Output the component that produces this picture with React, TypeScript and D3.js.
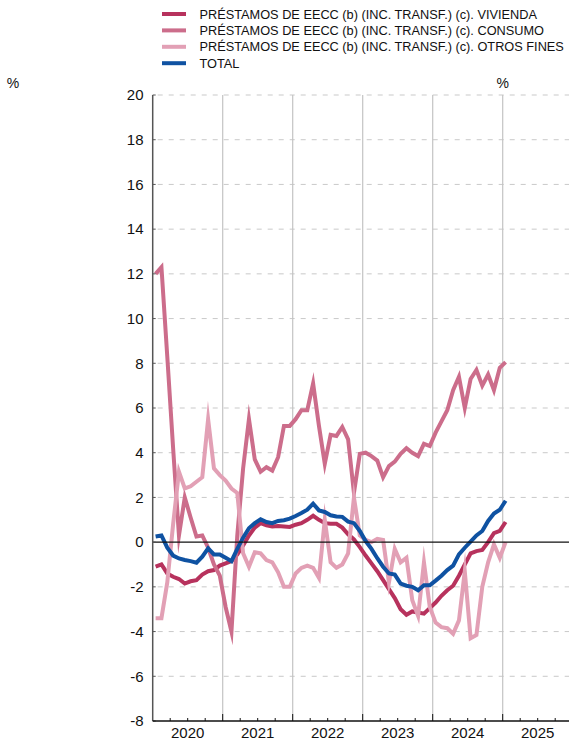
import { line, range, scaleLinear, timeMonth } from "d3";

// meses ene-2020 .. ene-2025
const months = timeMonth.range(new Date(2020, 0, 1), new Date(2025, 1, 1));

const vivienda = [
  -1.1, -1.0, -1.4, -1.55, -1.65, -1.85, -1.75, -1.7, -1.45, -1.3, -1.25, -1.05,
  -0.95, -0.85, -0.55, -0.15, 0.3, 0.65, 0.85, 0.75, 0.7, 0.72, 0.7, 0.68,
  0.78, 0.85, 1.0, 1.18, 1.0, 0.85, 0.82, 0.82, 0.65, 0.35, 0.12, -0.22,
  -0.6, -0.95, -1.3, -1.7, -2.1, -2.5, -3.0, -3.25, -3.1, -3.15, -3.2, -2.95,
  -2.7, -2.4, -2.15, -1.95, -1.5, -1.0, -0.5, -0.4, -0.35, 0.0, 0.4, 0.5,
  0.9,
];

const consumo = [
  12.0, 12.3, 8.3, 4.2, 0.3, 2.0, 1.1, 0.25, 0.3, -0.25, -1.0, -1.5,
  -2.9, -4.0, 0.3, 3.3, 5.5, 3.7, 3.15, 3.35, 3.2, 3.8, 5.2, 5.2,
  5.5, 5.9, 5.9, 7.1, 5.2, 3.5, 4.8, 4.75, 5.15, 4.6, 2.2, 3.95,
  4.0, 3.85, 3.65, 2.9, 3.4, 3.6, 3.95, 4.2, 4.0, 3.85, 4.4, 4.3,
  4.9, 5.4, 5.9, 6.8, 7.4, 6.0, 7.3, 7.7, 7.0, 7.5, 6.8, 7.8,
  8.05,
];

const otrosFines = [
  -3.4, -3.4, -1.8, 0.8, 3.15, 2.4, 2.5, 2.7, 2.9, 5.5, 3.3, 3.0,
  2.75, 2.4, 2.2, -0.5, -1.1, -0.45, -0.5, -0.8, -0.9, -1.35, -2.0, -2.0,
  -1.4, -1.15, -1.05, -1.15, -1.6, 1.0, -0.9, -1.15, -1.0, -0.5, 2.0, 0.3,
  0.1, 0.0, 0.15, 0.1, -1.8, -0.3, -0.9, -0.7, -2.6, -3.3, -0.9, -2.9,
  -3.6, -3.8, -3.85, -4.1, -3.5, -1.3, -4.3, -4.15, -2.0, -0.9, -0.1, -0.7,
  0.0,
];

const total = [
  0.25, 0.3, -0.25, -0.6, -0.73, -0.8, -0.85, -0.92, -0.65, -0.28, -0.55, -0.55,
  -0.7, -0.85, -0.3, 0.2, 0.62, 0.85, 1.02, 0.9, 0.85, 0.95, 0.98, 1.05,
  1.17, 1.3, 1.45, 1.72, 1.42, 1.35, 1.2, 1.15, 1.13, 0.92, 0.85, 0.5,
  0.05, -0.3, -0.72, -1.1, -1.4, -1.45, -1.85, -1.95, -2.0, -2.15, -1.93, -1.93,
  -1.72, -1.5, -1.25, -1.05, -0.55, -0.25, 0.02, 0.3, 0.5, 0.95, 1.28, 1.45,
  1.85,
];

const seriesLabels = [
  "PRÉSTAMOS DE EECC (b) (INC. TRANSF.) (c). VIVIENDA",
  "PRÉSTAMOS DE EECC (b) (INC. TRANSF.) (c). CONSUMO",
  "PRÉSTAMOS DE EECC (b) (INC. TRANSF.) (c). OTROS FINES",
  "TOTAL",
];

const years = [2020, 2021, 2022, 2023, 2024, 2025];
const yTicks = range(-8, 21, 2);

const colors = ["#b7325d", "#cc6d8b", "#e2a0b5", "#0f52a2"];
const font = "'Liberation Sans', Arial, Helvetica, sans-serif";

export default function App() {
  const width = 569;
  const height = 740;
  const right = width;

  const x = scaleLinear().domain([2020, 2026]).range([152.7, 572.7]);
  const y = scaleLinear().domain([-8, 20]).range([721, 95]);

  const monthX = (d: Date) => x(d.getFullYear() + (d.getMonth() + 0.5) / 12);

  const path = line<number>()
    .x((_, i) => monthX(months[i]))
    .y((v) => y(v));

  const allSeries = [vivienda, consumo, otrosFines, total];

  return (
    <svg
      width={width}
      height={height}
      style={{ position: "absolute", left: 0, top: 0, background: "#fff" }}
      fontFamily={font}
    >
      {/* leyenda */}
      {seriesLabels.map((label, i) => {
        const ly = 14 + i * 16.4;
        return (
          <g key={label}>
            <line x1={162} x2={186} y1={ly} y2={ly} stroke={colors[i]} strokeWidth={4} />
            <text x={199.5} y={ly + 4.6} fontSize={12.75} fill="#111">
              {label}
            </text>
          </g>
        );
      })}

      <text x={13} y={88} fontSize={14} textAnchor="middle" fill="#111">%</text>
      <text x={x(2025)} y={88} fontSize={14} textAnchor="middle" fill="#111">%</text>

      {/* rejilla horizontal */}
      {yTicks
        .filter((t) => t !== 0 && t !== -8)
        .map((t) => (
          <line
            key={t}
            x1={x(2020)}
            x2={right}
            y1={y(t)}
            y2={y(t)}
            stroke="#c9c9c9"
            strokeWidth={1}
            strokeDasharray="5 6"
            strokeDashoffset={-5}
          />
        ))}

      {/* rejilla vertical */}
      {years.slice(1).map((yr) => (
        <line
          key={yr}
          x1={x(yr)}
          x2={x(yr)}
          y1={y(20)}
          y2={y(-8)}
          stroke="#c4c4c4"
          strokeWidth={1.2}
        />
      ))}

      {/* series */}
      {allSeries.map((values, i) => (
        <path
          key={i}
          d={path(values) ?? ""}
          fill="none"
          stroke={colors[i]}
          strokeWidth={4}
          strokeLinejoin="miter"
          strokeMiterlimit={10}
        />
      ))}

      <line x1={x(2020)} x2={right} y1={y(0)} y2={y(0)} stroke="#111" strokeWidth={1.2} />

      {/* eje y */}
      <line x1={x(2020)} x2={x(2020)} y1={y(20)} y2={y(-8)} stroke="#555" strokeWidth={1.5} />
      {yTicks.map((t) => (
        <g key={t}>
          <line x1={x(2020)} x2={x(2020) + 3} y1={y(t)} y2={y(t)} stroke="#555" strokeWidth={1} />
          <text
            x={143.5}
            y={y(t)}
            dy="0.35em"
            textAnchor="end"
            fontSize={15}
            fill="#111"
          >
            {t}
          </text>
        </g>
      ))}

      {/* eje x */}
      <line x1={x(2020)} x2={right} y1={y(-8)} y2={y(-8)} stroke="#111" strokeWidth={1.5} />
      {years.map((yr) => (
        <g key={yr}>
          {[1, 2, 3].map((q) => (
            <line
              key={q}
              x1={x(yr + q / 4)}
              x2={x(yr + q / 4)}
              y1={y(-8)}
              y2={y(-8) - 3}
              stroke="#111"
              strokeWidth={1}
            />
          ))}
          {yr > 2020 ? (
            <line x1={x(yr)} x2={x(yr)} y1={y(-8)} y2={y(-8) - 7} stroke="#111" strokeWidth={1} />
          ) : null}
          <text x={x(yr + 0.5)} y={738} textAnchor="middle" fontSize={15} fill="#111">
            {yr}
          </text>
        </g>
      ))}
    </svg>
  );
}
